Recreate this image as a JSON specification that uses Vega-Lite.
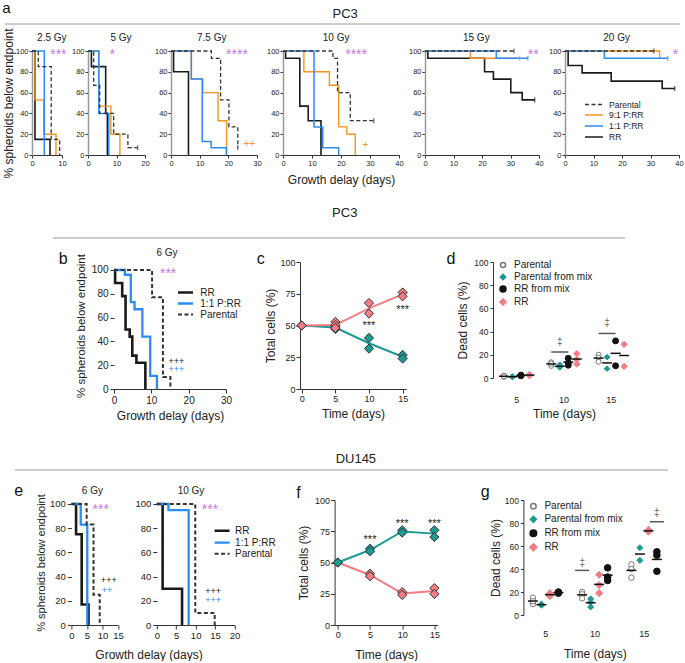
{
"$schema": "https://vega.github.io/schema/vega-lite/v6.json",
"padding": {"left": 0, "top": 0, "right": 0, "bottom": 0},
"config": {
 "font": "Liberation Sans",
 "view": {"stroke": null},
 "axis": {"grid": false, "domainColor": "#333", "tickColor": "#333", "labelColor": "#222", "titleColor": "#222", "titleFontWeight": "normal", "labelFlush": false, "labelOverlap": false, "tickSize": 3, "labelPadding": 2},
 "legend": {"labelColor": "#222"}
},
"datasets": {
 "km": [
  {"p":"a1","g":"RR","t":0,"s":100},{"p":"a1","g":"RR","t":1,"s":15},{"p":"a1","g":"RR","t":6,"s":0},
  {"p":"a1","g":"9:1 P:RR","t":0,"s":100},{"p":"a1","g":"9:1 P:RR","t":1,"s":53},{"p":"a1","g":"9:1 P:RR","t":3.9,"s":20},{"p":"a1","g":"9:1 P:RR","t":8,"s":0},
  {"p":"a1","g":"1:1 P:RR","t":0,"s":100},{"p":"a1","g":"1:1 P:RR","t":4.1,"s":0},
  {"p":"a1","g":"Parental","t":0,"s":100},{"p":"a1","g":"Parental","t":2.1,"s":85},{"p":"a1","g":"Parental","t":6.4,"s":15},{"p":"a1","g":"Parental","t":9.2,"s":0},
  {"p":"a2","g":"RR","t":0,"s":100},{"p":"a2","g":"RR","t":1.2,"s":85},{"p":"a2","g":"RR","t":6.2,"s":40},{"p":"a2","g":"RR","t":6.8,"s":0},
  {"p":"a2","g":"9:1 P:RR","t":0,"s":100},{"p":"a2","g":"9:1 P:RR","t":3.8,"s":47},{"p":"a2","g":"9:1 P:RR","t":8,"s":20},{"p":"a2","g":"9:1 P:RR","t":11.2,"s":0},
  {"p":"a2","g":"1:1 P:RR","t":0,"s":100},{"p":"a2","g":"1:1 P:RR","t":3.8,"s":40},{"p":"a2","g":"1:1 P:RR","t":7.3,"s":0},
  {"p":"a2","g":"Parental","t":0,"s":100},{"p":"a2","g":"Parental","t":2,"s":67},{"p":"a2","g":"Parental","t":4.1,"s":40},{"p":"a2","g":"Parental","t":9,"s":20},{"p":"a2","g":"Parental","t":14,"s":7},{"p":"a2","g":"Parental","t":17.4,"s":7},
  {"p":"a3","g":"RR","t":0,"s":100},{"p":"a3","g":"RR","t":0.9,"s":80},{"p":"a3","g":"RR","t":6.1,"s":0},
  {"p":"a3","g":"9:1 P:RR","t":0,"s":100},{"p":"a3","g":"9:1 P:RR","t":7.1,"s":73},{"p":"a3","g":"9:1 P:RR","t":11.1,"s":60},{"p":"a3","g":"9:1 P:RR","t":16.4,"s":33},{"p":"a3","g":"9:1 P:RR","t":19.4,"s":0},
  {"p":"a3","g":"1:1 P:RR","t":0,"s":100},{"p":"a3","g":"1:1 P:RR","t":7.1,"s":73},{"p":"a3","g":"1:1 P:RR","t":10.9,"s":13},{"p":"a3","g":"1:1 P:RR","t":14,"s":7},{"p":"a3","g":"1:1 P:RR","t":19.3,"s":0},
  {"p":"a3","g":"Parental","t":0,"s":100},{"p":"a3","g":"Parental","t":14.1,"s":93},{"p":"a3","g":"Parental","t":17.3,"s":53},{"p":"a3","g":"Parental","t":20.2,"s":27},{"p":"a3","g":"Parental","t":23.3,"s":7},
  {"p":"a4","g":"RR","t":0,"s":100},{"p":"a4","g":"RR","t":0.9,"s":93},{"p":"a4","g":"RR","t":5.8,"s":47},{"p":"a4","g":"RR","t":8.7,"s":33},{"p":"a4","g":"RR","t":13.1,"s":0},
  {"p":"a4","g":"9:1 P:RR","t":0,"s":100},{"p":"a4","g":"9:1 P:RR","t":7.2,"s":80},{"p":"a4","g":"9:1 P:RR","t":16,"s":67},{"p":"a4","g":"9:1 P:RR","t":19.2,"s":27},{"p":"a4","g":"9:1 P:RR","t":22,"s":20},{"p":"a4","g":"9:1 P:RR","t":24.9,"s":0},
  {"p":"a4","g":"1:1 P:RR","t":0,"s":100},{"p":"a4","g":"1:1 P:RR","t":10.7,"s":27},{"p":"a4","g":"1:1 P:RR","t":13.7,"s":7},{"p":"a4","g":"1:1 P:RR","t":19.2,"s":0},
  {"p":"a4","g":"Parental","t":0,"s":100},{"p":"a4","g":"Parental","t":17.2,"s":93},{"p":"a4","g":"Parental","t":18.8,"s":60},{"p":"a4","g":"Parental","t":23.2,"s":33},{"p":"a4","g":"Parental","t":31.3,"s":33},
  {"p":"a5","g":"RR","t":0,"s":100},{"p":"a5","g":"RR","t":1,"s":93},{"p":"a5","g":"RR","t":20.9,"s":80},{"p":"a5","g":"RR","t":24,"s":73},{"p":"a5","g":"RR","t":30.1,"s":60},{"p":"a5","g":"RR","t":34.1,"s":53},{"p":"a5","g":"RR","t":38.5,"s":53},
  {"p":"a5","g":"9:1 P:RR","t":0,"s":100},{"p":"a5","g":"9:1 P:RR","t":15.9,"s":93},{"p":"a5","g":"9:1 P:RR","t":33.2,"s":93},
  {"p":"a5","g":"1:1 P:RR","t":0,"s":100},{"p":"a5","g":"1:1 P:RR","t":25,"s":93},{"p":"a5","g":"1:1 P:RR","t":36.1,"s":93},
  {"p":"a5","g":"Parental","t":0,"s":100},{"p":"a5","g":"Parental","t":31.2,"s":100},
  {"p":"a6","g":"RR","t":0,"s":100},{"p":"a6","g":"RR","t":1.1,"s":86},{"p":"a6","g":"RR","t":6,"s":79},{"p":"a6","g":"RR","t":16.2,"s":71},{"p":"a6","g":"RR","t":34.1,"s":64},{"p":"a6","g":"RR","t":38.5,"s":64},
  {"p":"a6","g":"9:1 P:RR","t":0,"s":100},{"p":"a6","g":"9:1 P:RR","t":33.2,"s":93},{"p":"a6","g":"9:1 P:RR","t":33.6,"s":93},
  {"p":"a6","g":"1:1 P:RR","t":0,"s":100},{"p":"a6","g":"1:1 P:RR","t":13.8,"s":93},{"p":"a6","g":"1:1 P:RR","t":36.1,"s":93},
  {"p":"a6","g":"Parental","t":0,"s":100},{"p":"a6","g":"Parental","t":31.2,"s":100},
  {"p":"b","g":"RR","t":0,"s":100},{"p":"b","g":"RR","t":0.3,"s":89},{"p":"b","g":"RR","t":2.2,"s":78},{"p":"b","g":"RR","t":3.1,"s":50},{"p":"b","g":"RR","t":4.2,"s":44},{"p":"b","g":"RR","t":4.9,"s":28},{"p":"b","g":"RR","t":6,"s":22},{"p":"b","g":"RR","t":8.4,"s":0},
  {"p":"b","g":"1:1 P:RR","t":0,"s":100},{"p":"b","g":"1:1 P:RR","t":2.9,"s":96},{"p":"b","g":"1:1 P:RR","t":4.5,"s":73},{"p":"b","g":"1:1 P:RR","t":5.5,"s":67},{"p":"b","g":"1:1 P:RR","t":7.6,"s":44},{"p":"b","g":"1:1 P:RR","t":9.7,"s":11},{"p":"b","g":"1:1 P:RR","t":11.5,"s":0},
  {"p":"b","g":"Parental","t":0,"s":100},{"p":"b","g":"Parental","t":10.2,"s":77},{"p":"b","g":"Parental","t":13.1,"s":10},{"p":"b","g":"Parental","t":15.1,"s":0},
  {"p":"e1","g":"RR","t":0,"s":100},{"p":"e1","g":"RR","t":1.5,"s":75},{"p":"e1","g":"RR","t":3.3,"s":17},{"p":"e1","g":"RR","t":5.5,"s":0},
  {"p":"e1","g":"1:1 P:RR","t":0,"s":100},{"p":"e1","g":"1:1 P:RR","t":3,"s":83},{"p":"e1","g":"1:1 P:RR","t":5.1,"s":0},
  {"p":"e1","g":"Parental","t":0,"s":100},{"p":"e1","g":"Parental","t":4.9,"s":83},{"p":"e1","g":"Parental","t":7.1,"s":25},{"p":"e1","g":"Parental","t":9.1,"s":0},
  {"p":"e2","g":"RR","t":0,"s":100},{"p":"e2","g":"RR","t":1.5,"s":30},{"p":"e2","g":"RR","t":6.5,"s":0},
  {"p":"e2","g":"1:1 P:RR","t":0,"s":100},{"p":"e2","g":"1:1 P:RR","t":3,"s":95},{"p":"e2","g":"1:1 P:RR","t":8.2,"s":0},
  {"p":"e2","g":"Parental","t":0,"s":100},{"p":"e2","g":"Parental","t":9.9,"s":10},{"p":"e2","g":"Parental","t":14.9,"s":0}
 ],
 "cen": [
  {"p":"a2","g":"Parental","t":17.4,"s":7},{"p":"a3","g":"Parental","t":23.3,"s":7},{"p":"a4","g":"Parental","t":31.3,"s":33},
  {"p":"a5","g":"Parental","t":31.2,"s":100},{"p":"a5","g":"9:1 P:RR","t":33.2,"s":93},{"p":"a5","g":"1:1 P:RR","t":36.1,"s":93},{"p":"a5","g":"RR","t":38.5,"s":53},
  {"p":"a6","g":"Parental","t":31.2,"s":100},{"p":"a6","g":"1:1 P:RR","t":36.1,"s":93},{"p":"a6","g":"RR","t":38.5,"s":64}
 ],
 "ann": [
  {"p":"a1","k":"s","label":"***","t":8.8,"s":100},{"p":"a2","k":"s","label":"*","t":8.5,"s":100},{"p":"a3","k":"s","label":"****","t":23,"s":100},
  {"p":"a4","k":"s","label":"****","t":25.2,"s":100},{"p":"a5","k":"s","label":"**","t":38,"s":100},{"p":"a6","k":"s","label":"*","t":38.8,"s":100},
  {"p":"a3","k":"o","label":"++","t":27.3,"s":11},{"p":"a4","k":"o","label":"+","t":28.4,"s":10},
  {"p":"a1","k":"T","label":"2.5 Gy","t":6.6,"s":109.6},{"p":"a2","k":"T","label":"5 Gy","t":11.6,"s":109.6},{"p":"a3","k":"T","label":"7.5 Gy","t":14.2,"s":109.6},
  {"p":"a4","k":"T","label":"10 Gy","t":18.3,"s":109.6},{"p":"a5","k":"T","label":"15 Gy","t":18,"s":109.6},{"p":"a6","k":"T","label":"20 Gy","t":18.1,"s":109.6},
  {"p":"b","k":"s","label":"***","t":14.5,"s":100},{"p":"b","k":"k","label":"+++","t":16.7,"s":23.5},{"p":"b","k":"b","label":"+++","t":16.7,"s":16.5},
  {"p":"b","k":"T","label":"6 Gy","t":14.2,"s":111.7},{"p":"b","k":"L","label":"b","t":-13.6,"s":104.8},
  {"p":"e1","k":"s","label":"***","t":9.4,"s":98.5},{"p":"e1","k":"k","label":"+++","t":12,"s":37.4},{"p":"e1","k":"b","label":"++","t":11.4,"s":29.2},
  {"p":"e1","k":"T","label":"6 Gy","t":6.75,"s":108.5},{"p":"e1","k":"L","label":"e","t":-16.9,"s":106.4},
  {"p":"e2","k":"s","label":"***","t":13.7,"s":98.5},{"p":"e2","k":"k","label":"+++","t":14.5,"s":28.1},{"p":"e2","k":"b","label":"+++","t":14.5,"s":20.4},
  {"p":"e2","k":"T","label":"10 Gy","t":8.8,"s":108.5}
 ],
 "gro": [
  {"p":"c","g":"Parental","t":0,"v":50},{"p":"c","g":"Parental","t":5,"v":49.4},{"p":"c","g":"Parental","t":5,"v":47.3},{"p":"c","g":"Parental","t":10,"v":40.2},{"p":"c","g":"Parental","t":10,"v":31.8},{"p":"c","g":"Parental","t":15,"v":26.8},{"p":"c","g":"Parental","t":15,"v":24},
  {"p":"c","g":"RR","t":0,"v":50},{"p":"c","g":"RR","t":5,"v":52.8},{"p":"c","g":"RR","t":5,"v":50.2},{"p":"c","g":"RR","t":5,"v":48},{"p":"c","g":"RR","t":10,"v":67.7},{"p":"c","g":"RR","t":10,"v":59.4},{"p":"c","g":"RR","t":15,"v":76},{"p":"c","g":"RR","t":15,"v":73},
  {"p":"f","g":"RR","t":0,"v":50},{"p":"f","g":"RR","t":5,"v":41},{"p":"f","g":"RR","t":5,"v":39},{"p":"f","g":"RR","t":10,"v":26.3},{"p":"f","g":"RR","t":10,"v":24.1},{"p":"f","g":"RR","t":15,"v":29.5},{"p":"f","g":"RR","t":15,"v":24.9},
  {"p":"f","g":"Parental","t":0,"v":50},{"p":"f","g":"Parental","t":5,"v":61},{"p":"f","g":"Parental","t":5,"v":59},{"p":"f","g":"Parental","t":10,"v":75.8},{"p":"f","g":"Parental","t":10,"v":73.9},{"p":"f","g":"Parental","t":15,"v":75.8},{"p":"f","g":"Parental","t":15,"v":70.4}
 ],
 "gann": [
  {"p":"c","k":"s","label":"***","t":10,"v":52.2},{"p":"c","k":"s","label":"***","t":15,"v":64.5},{"p":"c","k":"L","label":"c","t":-6.07,"v":98.7},
  {"p":"f","k":"s","label":"***","t":5,"v":70.4},{"p":"f","k":"s","label":"***","t":10,"v":83},{"p":"f","k":"s","label":"***","t":15,"v":83},{"p":"f","k":"L","label":"f","t":-6.1,"v":101.8}
 ],
 "dead": [
  {"p":"d","day":5,"g":"Parental","v":1},{"p":"d","day":5,"g":"Parental","v":2},{"p":"d","day":5,"g":"Parental","v":1.5},
  {"p":"d","day":5,"g":"Parental from mix","v":1},{"p":"d","day":5,"g":"Parental from mix","v":1.2},{"p":"d","day":5,"g":"Parental from mix","v":0.8},
  {"p":"d","day":5,"g":"RR from mix","v":2},{"p":"d","day":5,"g":"RR from mix","v":2.5},{"p":"d","day":5,"g":"RR from mix","v":2},
  {"p":"d","day":5,"g":"RR","v":2},{"p":"d","day":5,"g":"RR","v":3},{"p":"d","day":5,"g":"RR","v":2.5},
  {"p":"d","day":10,"g":"Parental","v":13.5},{"p":"d","day":10,"g":"Parental","v":10.5},{"p":"d","day":10,"g":"Parental","v":12.5},
  {"p":"d","day":10,"g":"Parental from mix","v":10},{"p":"d","day":10,"g":"Parental from mix","v":9},{"p":"d","day":10,"g":"Parental from mix","v":11.5},
  {"p":"d","day":10,"g":"RR from mix","v":17},{"p":"d","day":10,"g":"RR from mix","v":13},{"p":"d","day":10,"g":"RR from mix","v":11},
  {"p":"d","day":10,"g":"RR","v":21},{"p":"d","day":10,"g":"RR","v":16},{"p":"d","day":10,"g":"RR","v":12},
  {"p":"d","day":15,"g":"Parental","v":20},{"p":"d","day":15,"g":"Parental","v":17.5},{"p":"d","day":15,"g":"Parental","v":14},
  {"p":"d","day":15,"g":"Parental from mix","v":18},{"p":"d","day":15,"g":"Parental from mix","v":8},
  {"p":"d","day":15,"g":"RR from mix","v":32},{"p":"d","day":15,"g":"RR from mix","v":10.5},
  {"p":"d","day":15,"g":"RR","v":29},{"p":"d","day":15,"g":"RR","v":10},
  {"p":"g","day":5,"g":"Parental","v":15},{"p":"g","day":5,"g":"Parental","v":9.5},{"p":"g","day":5,"g":"Parental","v":12},
  {"p":"g","day":5,"g":"Parental from mix","v":9},{"p":"g","day":5,"g":"Parental from mix","v":9.5},{"p":"g","day":5,"g":"Parental from mix","v":8.5},
  {"p":"g","day":5,"g":"RR","v":19},{"p":"g","day":5,"g":"RR","v":16.5},{"p":"g","day":5,"g":"RR","v":17.5},
  {"p":"g","day":5,"g":"RR from mix","v":20},{"p":"g","day":5,"g":"RR from mix","v":19.5},{"p":"g","day":5,"g":"RR from mix","v":19},
  {"p":"g","day":10,"g":"Parental","v":20},{"p":"g","day":10,"g":"Parental","v":18},{"p":"g","day":10,"g":"Parental","v":14.5},
  {"p":"g","day":10,"g":"Parental from mix","v":14},{"p":"g","day":10,"g":"Parental from mix","v":7},{"p":"g","day":10,"g":"Parental from mix","v":11},
  {"p":"g","day":10,"g":"RR","v":35},{"p":"g","day":10,"g":"RR","v":26},{"p":"g","day":10,"g":"RR","v":19},
  {"p":"g","day":10,"g":"RR from mix","v":41},{"p":"g","day":10,"g":"RR from mix","v":33},{"p":"g","day":10,"g":"RR from mix","v":30},
  {"p":"g","day":15,"g":"Parental","v":44},{"p":"g","day":15,"g":"Parental","v":40},{"p":"g","day":15,"g":"Parental","v":32.5},
  {"p":"g","day":15,"g":"Parental from mix","v":58.5},{"p":"g","day":15,"g":"Parental from mix","v":47.5},
  {"p":"g","day":15,"g":"RR","v":74},{"p":"g","day":15,"g":"RR","v":72.5},{"p":"g","day":15,"g":"RR","v":73},
  {"p":"g","day":15,"g":"RR from mix","v":55},{"p":"g","day":15,"g":"RR from mix","v":52},{"p":"g","day":15,"g":"RR from mix","v":38}
 ],
 "sig": [
  {"p":"d","day":10,"g":"Parental from mix","v":22.5,"w":31,"label":"‡"},
  {"p":"d","day":15,"g":"Parental from mix","v":38.4,"w":47.5,"label":"‡"},
  {"p":"g","day":10,"g":"Parental","v":38.8,"w":45.5,"label":"‡"},
  {"p":"g","day":15,"g":"RR from mix","v":81.1,"w":89,"label":"‡"}
 ],
 "lett": [
  {"p":"d","label":"d","day":5,"v":98},
  {"p":"g","label":"g","day":5,"v":102.2}
 ]
},
"vconcat": [
 {"hconcat": [
  {"width": 1, "height": 10, "data": {"values": []}, "mark": "point"},
  {"width": 675, "height": 25,
   "data": {"values": [{"label": "PC3"}]},
   "layer": [
    {"mark": {"type": "rule", "color": "#9a9a9a", "strokeWidth": 1}, "encoding": {"y": {"datum": 0.12, "type": "quantitative", "scale": {"domain": [0, 1], "nice": false}, "axis": null}}},
    {"mark": {"type": "text", "fontSize": 13, "baseline": "middle", "color": "#222"}, "encoding": {"text": {"field": "label"}, "x": {"datum": 0.504, "type": "quantitative", "scale": {"domain": [0, 1], "nice": false}, "axis": null}, "y": {"datum": 0.52, "type": "quantitative", "axis": null}}},
    {"data": {"values": [{"label": "a"}]}, "mark": {"type": "text", "fontSize": 15, "baseline": "alphabetic", "color": "#111"}, "encoding": {"text": {"field": "label"}, "x": {"datum": 0.002, "type": "quantitative", "axis": null}, "y": {"datum": 0.56, "type": "quantitative", "axis": null}}}
   ]}
  ], "spacing": 4, "bounds": "flush"},
 {"hconcat": [
  {"width": 6, "height": 10, "data": {"values": []}, "mark": "point"},
  {"width": 30, "height": 104,
   "encoding": {
    "x": {"field": "t", "type": "quantitative", "scale": {"domain": [0, 10], "nice": false}, "axis": {"values": [0, 10], "labelFontSize": 7.5, "tickSize": 3, "labelPadding": 1}, "title": null},
    "y": {"field": "s", "type": "quantitative", "scale": {"domain": [0, 100], "nice": false}, "axis": {"values": [0, 20, 40, 60, 80, 100], "labelFontSize": 7.5, "tickSize": 3, "labelPadding": 1, "domainColor": "#999", "domainWidth": 1.5, "titleFontSize": 12, "titlePadding": 0}, "title": "% spheroids below endpoint"}},
   "layer": [
    {"data": {"name": "km"}, "transform": [{"filter": "datum.p == 'a1'"}], "mark": {"type": "line", "interpolate": "step-after"},
     "encoding": {"color": {"field": "g", "type": "nominal", "scale": {"domain": ["Parental", "9:1 P:RR", "1:1 P:RR", "RR"], "range": ["#333333", "#f7931e", "#2b8cf3", "#1a1a1a"]}, "legend": null},
      "strokeDash": {"field": "g", "type": "nominal", "scale": {"domain": ["Parental", "9:1 P:RR", "1:1 P:RR", "RR"], "range": [[4, 2.5], [1, 0], [1, 0], [1, 0]]}, "legend": null},
      "strokeWidth": {"field": "g", "type": "nominal", "scale": {"domain": ["Parental", "9:1 P:RR", "1:1 P:RR", "RR"], "range": [1.3, 1.6, 2, 2.6]}, "legend": null}}},
    {"data": {"name": "ann"}, "transform": [{"filter": "datum.p == 'a1' && datum.k == 's'"}], "mark": {"type": "text", "fontSize": 14, "color": "#c47ae0", "baseline": "middle", "dy": 4}, "encoding": {"text": {"field": "label"}}},
    {"data": {"name": "ann"}, "transform": [{"filter": "datum.p == 'a1' && datum.k == 'T'"}], "mark": {"type": "text", "fontSize": 10, "color": "#222", "baseline": "alphabetic"}, "encoding": {"text": {"field": "label"}}}
   ]},
  {"width": 57, "height": 104,
   "encoding": {
    "x": {"field": "t", "type": "quantitative", "scale": {"domain": [0, 20], "nice": false}, "axis": {"values": [0, 10, 20], "labelFontSize": 7.5, "tickSize": 3, "labelPadding": 1}, "title": null},
    "y": {"field": "s", "type": "quantitative", "scale": {"domain": [0, 100], "nice": false}, "axis": {"values": [0, 20, 40, 60, 80, 100], "labelFontSize": 7.5, "tickSize": 3, "labelPadding": 1, "domainColor": "#999", "domainWidth": 1.5}, "title": null}},
   "layer": [
    {"data": {"name": "km"}, "transform": [{"filter": "datum.p == 'a2'"}], "mark": {"type": "line", "interpolate": "step-after"},
     "encoding": {"color": {"field": "g", "type": "nominal", "scale": {"domain": ["Parental", "9:1 P:RR", "1:1 P:RR", "RR"], "range": ["#333333", "#f7931e", "#2b8cf3", "#1a1a1a"]}, "legend": null},
      "strokeDash": {"field": "g", "type": "nominal", "scale": {"domain": ["Parental", "9:1 P:RR", "1:1 P:RR", "RR"], "range": [[4, 2.5], [1, 0], [1, 0], [1, 0]]}, "legend": null},
      "strokeWidth": {"field": "g", "type": "nominal", "scale": {"domain": ["Parental", "9:1 P:RR", "1:1 P:RR", "RR"], "range": [1.3, 1.6, 2, 2.6]}, "legend": null}}},
    {"data": {"name": "cen"}, "transform": [{"filter": "datum.p == 'a2'"}], "mark": {"type": "tick", "orient": "vertical", "size": 5, "thickness": 1.3},
     "encoding": {"color": {"field": "g", "type": "nominal", "scale": {"domain": ["Parental", "9:1 P:RR", "1:1 P:RR", "RR"], "range": ["#333333", "#f7931e", "#2b8cf3", "#1a1a1a"]}, "legend": null}}},
    {"data": {"name": "ann"}, "transform": [{"filter": "datum.p == 'a2' && datum.k == 's'"}], "mark": {"type": "text", "fontSize": 14, "color": "#c47ae0", "baseline": "middle", "dy": 4}, "encoding": {"text": {"field": "label"}}},
    {"data": {"name": "ann"}, "transform": [{"filter": "datum.p == 'a2' && datum.k == 'T'"}], "mark": {"type": "text", "fontSize": 10, "color": "#222", "baseline": "alphabetic"}, "encoding": {"text": {"field": "label"}}}
   ]},
  {"width": 86, "height": 104,
   "encoding": {
    "x": {"field": "t", "type": "quantitative", "scale": {"domain": [0, 30], "nice": false}, "axis": {"values": [0, 10, 20, 30], "labelFontSize": 7.5, "tickSize": 3, "labelPadding": 1}, "title": null},
    "y": {"field": "s", "type": "quantitative", "scale": {"domain": [0, 100], "nice": false}, "axis": {"values": [0, 20, 40, 60, 80, 100], "labelFontSize": 7.5, "tickSize": 3, "labelPadding": 1, "domainColor": "#999", "domainWidth": 1.5}, "title": null}},
   "layer": [
    {"data": {"name": "km"}, "transform": [{"filter": "datum.p == 'a3'"}], "mark": {"type": "line", "interpolate": "step-after"},
     "encoding": {"color": {"field": "g", "type": "nominal", "scale": {"domain": ["Parental", "9:1 P:RR", "1:1 P:RR", "RR"], "range": ["#333333", "#f7931e", "#2b8cf3", "#1a1a1a"]}, "legend": null},
      "strokeDash": {"field": "g", "type": "nominal", "scale": {"domain": ["Parental", "9:1 P:RR", "1:1 P:RR", "RR"], "range": [[4, 2.5], [1, 0], [1, 0], [1, 0]]}, "legend": null},
      "strokeWidth": {"field": "g", "type": "nominal", "scale": {"domain": ["Parental", "9:1 P:RR", "1:1 P:RR", "RR"], "range": [1.3, 1.6, 2, 2.6]}, "legend": null}}},
    {"data": {"name": "cen"}, "transform": [{"filter": "datum.p == 'a3'"}], "mark": {"type": "tick", "orient": "vertical", "size": 5, "thickness": 1.3},
     "encoding": {"color": {"field": "g", "type": "nominal", "scale": {"domain": ["Parental", "9:1 P:RR", "1:1 P:RR", "RR"], "range": ["#333333", "#f7931e", "#2b8cf3", "#1a1a1a"]}, "legend": null}}},
    {"data": {"name": "ann"}, "transform": [{"filter": "datum.p == 'a3' && datum.k == 's'"}], "mark": {"type": "text", "fontSize": 14, "color": "#c47ae0", "baseline": "middle", "dy": 4}, "encoding": {"text": {"field": "label"}}},
    {"data": {"name": "ann"}, "transform": [{"filter": "datum.p == 'a3' && datum.k == 'o'"}], "mark": {"type": "text", "fontSize": 10, "color": "#f7931e", "baseline": "middle"}, "encoding": {"text": {"field": "label"}}},
    {"data": {"name": "ann"}, "transform": [{"filter": "datum.p == 'a3' && datum.k == 'T'"}], "mark": {"type": "text", "fontSize": 10, "color": "#222", "baseline": "alphabetic"}, "encoding": {"text": {"field": "label"}}}
   ]},
  {"width": 116, "height": 104,
   "encoding": {
    "x": {"field": "t", "type": "quantitative", "scale": {"domain": [0, 40], "nice": false}, "axis": {"values": [0, 10, 20, 30, 40], "labelFontSize": 7.5, "tickSize": 3, "labelPadding": 1, "titleFontSize": 12, "titlePadding": 8}, "title": "Growth delay (days)"},
    "y": {"field": "s", "type": "quantitative", "scale": {"domain": [0, 100], "nice": false}, "axis": {"values": [0, 20, 40, 60, 80, 100], "labelFontSize": 7.5, "tickSize": 3, "labelPadding": 1, "domainColor": "#999", "domainWidth": 1.5}, "title": null}},
   "layer": [
    {"data": {"name": "km"}, "transform": [{"filter": "datum.p == 'a4'"}], "mark": {"type": "line", "interpolate": "step-after"},
     "encoding": {"color": {"field": "g", "type": "nominal", "scale": {"domain": ["Parental", "9:1 P:RR", "1:1 P:RR", "RR"], "range": ["#333333", "#f7931e", "#2b8cf3", "#1a1a1a"]}, "legend": null},
      "strokeDash": {"field": "g", "type": "nominal", "scale": {"domain": ["Parental", "9:1 P:RR", "1:1 P:RR", "RR"], "range": [[4, 2.5], [1, 0], [1, 0], [1, 0]]}, "legend": null},
      "strokeWidth": {"field": "g", "type": "nominal", "scale": {"domain": ["Parental", "9:1 P:RR", "1:1 P:RR", "RR"], "range": [1.3, 1.6, 2, 2.6]}, "legend": null}}},
    {"data": {"name": "cen"}, "transform": [{"filter": "datum.p == 'a4'"}], "mark": {"type": "tick", "orient": "vertical", "size": 5, "thickness": 1.3},
     "encoding": {"color": {"field": "g", "type": "nominal", "scale": {"domain": ["Parental", "9:1 P:RR", "1:1 P:RR", "RR"], "range": ["#333333", "#f7931e", "#2b8cf3", "#1a1a1a"]}, "legend": null}}},
    {"data": {"name": "ann"}, "transform": [{"filter": "datum.p == 'a4' && datum.k == 's'"}], "mark": {"type": "text", "fontSize": 14, "color": "#c47ae0", "baseline": "middle", "dy": 4}, "encoding": {"text": {"field": "label"}}},
    {"data": {"name": "ann"}, "transform": [{"filter": "datum.p == 'a4' && datum.k == 'o'"}], "mark": {"type": "text", "fontSize": 10, "color": "#f7931e", "baseline": "middle"}, "encoding": {"text": {"field": "label"}}},
    {"data": {"name": "ann"}, "transform": [{"filter": "datum.p == 'a4' && datum.k == 'T'"}], "mark": {"type": "text", "fontSize": 10, "color": "#222", "baseline": "alphabetic"}, "encoding": {"text": {"field": "label"}}}
   ]},
  {"width": 114, "height": 104,
   "encoding": {
    "x": {"field": "t", "type": "quantitative", "scale": {"domain": [0, 40], "nice": false}, "axis": {"values": [0, 10, 20, 30, 40], "labelFontSize": 7.5, "tickSize": 3, "labelPadding": 1}, "title": null},
    "y": {"field": "s", "type": "quantitative", "scale": {"domain": [0, 100], "nice": false}, "axis": {"values": [0, 20, 40, 60, 80, 100], "labelFontSize": 7.5, "tickSize": 3, "labelPadding": 1, "domainColor": "#999", "domainWidth": 1.5}, "title": null}},
   "layer": [
    {"data": {"name": "km"}, "transform": [{"filter": "datum.p == 'a5'"}], "mark": {"type": "line", "interpolate": "step-after"},
     "encoding": {"color": {"field": "g", "type": "nominal", "scale": {"domain": ["Parental", "9:1 P:RR", "1:1 P:RR", "RR"], "range": ["#333333", "#f7931e", "#2b8cf3", "#1a1a1a"]}, "legend": null},
      "strokeDash": {"field": "g", "type": "nominal", "scale": {"domain": ["Parental", "9:1 P:RR", "1:1 P:RR", "RR"], "range": [[4, 2.5], [1, 0], [1, 0], [1, 0]]}, "legend": null},
      "strokeWidth": {"field": "g", "type": "nominal", "scale": {"domain": ["Parental", "9:1 P:RR", "1:1 P:RR", "RR"], "range": [1.3, 1.6, 2, 2.6]}, "legend": null}}},
    {"data": {"name": "cen"}, "transform": [{"filter": "datum.p == 'a5'"}], "mark": {"type": "tick", "orient": "vertical", "size": 5, "thickness": 1.3},
     "encoding": {"color": {"field": "g", "type": "nominal", "scale": {"domain": ["Parental", "9:1 P:RR", "1:1 P:RR", "RR"], "range": ["#333333", "#f7931e", "#2b8cf3", "#1a1a1a"]}, "legend": null}}},
    {"data": {"name": "ann"}, "transform": [{"filter": "datum.p == 'a5' && datum.k == 's'"}], "mark": {"type": "text", "fontSize": 14, "color": "#c47ae0", "baseline": "middle", "dy": 4}, "encoding": {"text": {"field": "label"}}},
    {"data": {"name": "ann"}, "transform": [{"filter": "datum.p == 'a5' && datum.k == 'T'"}], "mark": {"type": "text", "fontSize": 10, "color": "#222", "baseline": "alphabetic"}, "encoding": {"text": {"field": "label"}}}
   ]},
  {"width": 114, "height": 104,
   "encoding": {
    "x": {"field": "t", "type": "quantitative", "scale": {"domain": [0, 40], "nice": false}, "axis": {"values": [0, 10, 20, 30, 40], "labelFontSize": 7.5, "tickSize": 3, "labelPadding": 1}, "title": null},
    "y": {"field": "s", "type": "quantitative", "scale": {"domain": [0, 100], "nice": false}, "axis": {"values": [0, 20, 40, 60, 80, 100], "labelFontSize": 7.5, "tickSize": 3, "labelPadding": 1, "domainColor": "#999", "domainWidth": 1.5}, "title": null}},
   "layer": [
    {"data": {"name": "km"}, "transform": [{"filter": "datum.p == 'a6'"}], "mark": {"type": "line", "interpolate": "step-after"},
     "encoding": {"color": {"field": "g", "type": "nominal", "scale": {"domain": ["Parental", "9:1 P:RR", "1:1 P:RR", "RR"], "range": ["#333333", "#f7931e", "#2b8cf3", "#1a1a1a"]}, "legend": {"orient": "none", "legendX": 23, "legendY": 48, "title": null, "labelFontSize": 8.5, "symbolType": "M-1.86,0H1.86", "symbolSize": 94, "rowPadding": 0, "labelOffset": 9, "padding": 0}},
      "strokeDash": {"field": "g", "type": "nominal", "scale": {"domain": ["Parental", "9:1 P:RR", "1:1 P:RR", "RR"], "range": [[4, 2.5], [1, 0], [1, 0], [1, 0]]}, "legend": {"orient": "none", "legendX": 23, "legendY": 48, "title": null, "labelFontSize": 8.5, "symbolType": "M-1.86,0H1.86", "symbolSize": 94, "rowPadding": 0, "labelOffset": 9, "padding": 0}},
      "strokeWidth": {"field": "g", "type": "nominal", "scale": {"domain": ["Parental", "9:1 P:RR", "1:1 P:RR", "RR"], "range": [1.3, 1.6, 2, 2.6]}, "legend": {"orient": "none", "legendX": 23, "legendY": 48, "title": null, "labelFontSize": 8.5, "symbolType": "M-1.86,0H1.86", "symbolSize": 94, "rowPadding": 0, "labelOffset": 9, "padding": 0}}}},
    {"data": {"name": "cen"}, "transform": [{"filter": "datum.p == 'a6'"}], "mark": {"type": "tick", "orient": "vertical", "size": 5, "thickness": 1.3},
     "encoding": {"color": {"field": "g", "type": "nominal", "scale": {"domain": ["Parental", "9:1 P:RR", "1:1 P:RR", "RR"], "range": ["#333333", "#f7931e", "#2b8cf3", "#1a1a1a"]}, "legend": null}}},
    {"data": {"name": "ann"}, "transform": [{"filter": "datum.p == 'a6' && datum.k == 's'"}], "mark": {"type": "text", "fontSize": 14, "color": "#c47ae0", "baseline": "middle", "dy": 4}, "encoding": {"text": {"field": "label"}}},
    {"data": {"name": "ann"}, "transform": [{"filter": "datum.p == 'a6' && datum.k == 'T'"}], "mark": {"type": "text", "fontSize": 10, "color": "#222", "baseline": "alphabetic"}, "encoding": {"text": {"field": "label"}}}
   ]}
  ],
  "spacing": 26, "bounds": "flush",
  "resolve": {"scale": {"color": "independent", "fill": "independent", "stroke": "independent", "shape": "independent", "size": "independent", "strokeDash": "independent", "strokeWidth": "independent", "xOffset": "independent"}}},
 {"hconcat": [
  {"width": 3, "height": 10, "data": {"values": []}, "mark": "point"},
  {"width": 572, "height": 62,
   "data": {"values": [{"label": "PC3"}]},
   "layer": [
    {"mark": {"type": "rule", "color": "#9a9a9a", "strokeWidth": 1}, "encoding": {"y": {"datum": 0.161, "type": "quantitative", "scale": {"domain": [0, 1], "nice": false}, "axis": null}}},
    {"mark": {"type": "text", "fontSize": 13, "baseline": "middle", "color": "#222"}, "encoding": {"text": {"field": "label"}, "x": {"datum": 0.51, "type": "quantitative", "scale": {"domain": [0, 1], "nice": false}, "axis": null}, "y": {"datum": 0.565, "type": "quantitative", "axis": null}}}
   ]}
  ], "spacing": 50, "bounds": "flush"},
 {"hconcat": [
  {"width": 84, "height": 10, "data": {"values": []}, "mark": "point"},
  {"width": 112, "height": 127,
   "encoding": {
    "x": {"field": "t", "type": "quantitative", "scale": {"domain": [0, 30], "nice": false}, "axis": {"values": [0, 10, 20, 30], "labelFontSize": 10, "tickSize": 4, "labelPadding": 2, "titleFontSize": 12, "titlePadding": 5}, "title": "Growth delay (days)"},
    "y": {"field": "s", "type": "quantitative", "scale": {"domain": [0, 106.7], "nice": false}, "axis": {"values": [0, 20, 40, 60, 80, 100], "labelFontSize": 10, "tickSize": 4, "labelPadding": 2, "domain": false, "titleFontSize": 11.5, "titlePadding": 5}, "title": "% spheroids below endpoint"}},
   "layer": [
    {"data": {"values": [{}]}, "mark": {"type": "rule", "color": "#999", "strokeWidth": 1.5}, "encoding": {"x": {"datum": 0, "type": "quantitative"}, "y": {"datum": 0, "type": "quantitative"}, "y2": {"datum": 100}}},
    {"data": {"name": "km"}, "transform": [{"filter": "datum.p == 'b'"}], "mark": {"type": "line", "interpolate": "step-after"},
     "encoding": {"color": {"field": "g", "type": "nominal", "scale": {"domain": ["RR", "1:1 P:RR", "Parental"], "range": ["#1a1a1a", "#2b8cf3", "#333333"]}, "legend": {"orient": "none", "legendX": 66, "legendY": 25, "title": null, "labelFontSize": 10, "symbolType": "M-1.79,0H1.79", "symbolSize": 70, "rowPadding": 0, "labelOffset": 9.3, "padding": 0}},
      "strokeDash": {"field": "g", "type": "nominal", "scale": {"domain": ["RR", "1:1 P:RR", "Parental"], "range": [[1, 0], [1, 0], [4, 2.5]]}, "legend": {"orient": "none", "legendX": 66, "legendY": 25, "title": null, "labelFontSize": 10, "symbolType": "M-1.79,0H1.79", "symbolSize": 70, "rowPadding": 0, "labelOffset": 9.3, "padding": 0}},
      "strokeWidth": {"field": "g", "type": "nominal", "scale": {"domain": ["RR", "1:1 P:RR", "Parental"], "range": [2.6, 2, 1.3]}, "legend": {"orient": "none", "legendX": 66, "legendY": 25, "title": null, "labelFontSize": 10, "symbolType": "M-1.79,0H1.79", "symbolSize": 70, "rowPadding": 0, "labelOffset": 9.3, "padding": 0}}}},
    {"data": {"name": "ann"}, "transform": [{"filter": "datum.p == 'b' && datum.k == 's'"}], "mark": {"type": "text", "fontSize": 14, "color": "#c47ae0", "baseline": "middle", "dy": 4}, "encoding": {"text": {"field": "label"}}},
    {"data": {"name": "ann"}, "transform": [{"filter": "datum.p == 'b' && datum.k == 'k'"}], "mark": {"type": "text", "fontSize": 9, "color": "#222", "baseline": "middle"}, "encoding": {"text": {"field": "label"}}},
    {"data": {"name": "ann"}, "transform": [{"filter": "datum.p == 'b' && datum.k == 'b'"}], "mark": {"type": "text", "fontSize": 9, "color": "#2b8cf3", "baseline": "middle"}, "encoding": {"text": {"field": "label"}}},
    {"data": {"name": "ann"}, "transform": [{"filter": "datum.p == 'b' && datum.k == 'T'"}], "mark": {"type": "text", "fontSize": 10, "color": "#222", "baseline": "alphabetic"}, "encoding": {"text": {"field": "label"}}},
    {"data": {"name": "ann"}, "transform": [{"filter": "datum.p == 'b' && datum.k == 'L'"}], "mark": {"type": "text", "fontSize": 16, "color": "#111", "baseline": "alphabetic"}, "encoding": {"text": {"field": "label"}}}
   ]},
  {"width": 14, "height": 10, "data": {"values": []}, "mark": "point"},
  {"width": 106, "height": 127,
   "encoding": {
    "x": {"field": "t", "type": "quantitative", "scale": {"domain": [-0.25, 15.5], "nice": false, "zero": false}, "axis": {"values": [0, 5, 10, 15], "labelFontSize": 9, "tickSize": 4, "labelPadding": 1, "titleFontSize": 12, "titlePadding": 5}, "title": "Time (days)"},
    "y": {"field": "v", "type": "quantitative", "scale": {"domain": [0, 100], "nice": false}, "axis": {"values": [0, 25, 50, 75, 100], "labelFontSize": 9, "tickSize": 4, "labelPadding": 1, "titleFontSize": 12, "titlePadding": 2}, "title": "Total cells (%)"}},
   "layer": [
    {"data": {"name": "gro"}, "transform": [{"filter": "datum.p == 'c'"}, {"aggregate": [{"op": "mean", "field": "v", "as": "v"}], "groupby": ["g", "t"]}], "mark": {"type": "line", "strokeWidth": 2},
     "encoding": {"color": {"field": "g", "type": "nominal", "scale": {"domain": ["RR", "Parental"], "range": ["#f27d85", "#1e9a94"]}, "legend": null}}},
    {"data": {"name": "gro"}, "transform": [{"filter": "datum.p == 'c'"}], "mark": {"type": "point", "filled": true, "size": 85, "strokeWidth": 1, "opacity": 1},
     "encoding": {
      "fill": {"field": "g", "type": "nominal", "scale": {"domain": ["RR", "Parental"], "range": ["#f27d85", "#1e9a94"]}, "legend": {"orient": "none", "legendX": 6, "legendY": -0.7, "title": null, "labelFontSize": 10, "rowPadding": 0, "labelOffset": 4, "padding": 0}},
      "stroke": {"field": "g", "type": "nominal", "scale": {"domain": ["RR", "Parental"], "range": ["#333333", "#333333"]}, "legend": {"orient": "none", "legendX": 6, "legendY": -0.7, "title": null, "labelFontSize": 10, "rowPadding": 0, "labelOffset": 4, "padding": 0}},
      "shape": {"field": "g", "type": "nominal", "scale": {"domain": ["RR", "Parental"], "range": ["diamond", "diamond"]}, "legend": {"orient": "none", "legendX": 6, "legendY": -0.7, "title": null, "labelFontSize": 10, "rowPadding": 0, "labelOffset": 4, "padding": 0}}}},
    {"data": {"name": "gann"}, "transform": [{"filter": "datum.p == 'c' && datum.k == 's'"}], "mark": {"type": "text", "fontSize": 11, "color": "#222", "baseline": "middle", "dy": 3}, "encoding": {"text": {"field": "label"}}},
    {"data": {"name": "gann"}, "transform": [{"filter": "datum.p == 'c' && datum.k == 'L'"}], "mark": {"type": "text", "fontSize": 16, "color": "#111", "baseline": "alphabetic"}, "encoding": {"text": {"field": "label"}}}
   ]},
  {"width": 27, "height": 10, "data": {"values": []}, "mark": "point"},
  {"width": 142, "height": 116,
   "encoding": {
    "x": {"field": "day", "type": "ordinal", "scale": {"type": "band", "domain": [5, 10, 15], "paddingInner": 0.28, "paddingOuter": 0.14}, "axis": {"labelAngle": 0, "domain": false, "ticks": false, "labelPadding": 17, "labelFontSize": 9, "titleFontSize": 12, "titlePadding": 4}, "title": "Time (days)"},
    "y": {"field": "v", "type": "quantitative", "scale": {"domain": [0, 100], "nice": false}, "axis": {"values": [0, 20, 40, 60, 80, 100], "labelFontSize": 8.5, "tickSize": 3, "labelPadding": 2, "titleFontSize": 12, "titlePadding": 4}, "title": "Dead cells (%)"}},
   "layer": [
    {"data": {"name": "dead"}, "transform": [{"filter": "datum.p == 'd'"}, {"aggregate": [{"op": "count", "as": "n"}], "groupby": ["day"]}], "mark": {"type": "tick", "orient": "horizontal", "size": 34, "thickness": 1, "color": "#666"}, "encoding": {"y": {"datum": -10.9, "type": "quantitative"}}},
    {"data": {"name": "dead"}, "transform": [{"filter": "datum.p == 'd'"}, {"aggregate": [{"op": "count", "as": "n"}], "groupby": ["day"]}], "mark": {"type": "rule", "color": "#666", "strokeWidth": 1}, "encoding": {"x": {"field": "day", "type": "ordinal", "bandPosition": 0}, "y": {"datum": -10.9, "type": "quantitative"}, "y2": {"datum": -8.6}}},
    {"data": {"name": "dead"}, "transform": [{"filter": "datum.p == 'd'"}, {"aggregate": [{"op": "count", "as": "n"}], "groupby": ["day"]}], "mark": {"type": "rule", "color": "#666", "strokeWidth": 1}, "encoding": {"x": {"field": "day", "type": "ordinal", "bandPosition": 1}, "y": {"datum": -10.9, "type": "quantitative"}, "y2": {"datum": -8.6}}},
    {"data": {"name": "dead"}, "transform": [{"filter": "datum.p == 'd'"}], "mark": {"type": "point", "filled": true, "strokeWidth": 1, "opacity": 1},
     "encoding": {
      "xOffset": {"field": "g", "type": "nominal", "scale": {"domain": ["Parental", "Parental from mix", "RR from mix", "RR"], "paddingInner": 0, "paddingOuter": 0}},
      "fill": {"field": "g", "type": "nominal", "scale": {"domain": ["Parental", "Parental from mix", "RR from mix", "RR"], "range": ["#ffffff", "#1e9a94", "#111111", "#f27d85"]}, "legend": {"orient": "none", "legendX": 5, "legendY": -2, "title": null, "labelFontSize": 10, "rowPadding": 0, "labelOffset": 6, "padding": 0}},
      "stroke": {"field": "g", "type": "nominal", "scale": {"domain": ["Parental", "Parental from mix", "RR from mix", "RR"], "range": ["#777777", "#1e9a94", "#111111", "#f27d85"]}, "legend": {"orient": "none", "legendX": 5, "legendY": -2, "title": null, "labelFontSize": 10, "rowPadding": 0, "labelOffset": 6, "padding": 0}},
      "shape": {"field": "g", "type": "nominal", "scale": {"domain": ["Parental", "Parental from mix", "RR from mix", "RR"], "range": ["circle", "diamond", "circle", "diamond"]}, "legend": {"orient": "none", "legendX": 5, "legendY": -2, "title": null, "labelFontSize": 10, "rowPadding": 0, "labelOffset": 6, "padding": 0}},
      "size": {"field": "g", "type": "nominal", "scale": {"domain": ["Parental", "Parental from mix", "RR from mix", "RR"], "range": [26, 40, 44, 45]}, "legend": {"orient": "none", "legendX": 5, "legendY": -2, "title": null, "labelFontSize": 10, "rowPadding": 0, "labelOffset": 6, "padding": 0}}}},
    {"data": {"name": "dead"}, "transform": [{"filter": "datum.p == 'd'"}], "mark": {"type": "tick", "orient": "horizontal", "size": 10, "thickness": 1.5, "color": "#111"},
     "encoding": {"xOffset": {"field": "g", "type": "nominal"}, "y": {"aggregate": "mean", "field": "v", "type": "quantitative", "title": "Dead cells (%)"}}},
    {"data": {"name": "sig"}, "transform": [{"filter": "datum.p == 'd'"}], "mark": {"type": "tick", "orient": "horizontal", "size": 17, "thickness": 1.5, "color": "#111"}, "encoding": {"xOffset": {"field": "g", "type": "nominal"}}},
    {"data": {"name": "sig"}, "transform": [{"filter": "datum.p == 'd'"}], "mark": {"type": "text", "fontSize": 10, "color": "#666", "baseline": "middle"}, "encoding": {"xOffset": {"field": "g", "type": "nominal"}, "y": {"field": "w", "type": "quantitative", "title": "Dead cells (%)"}, "text": {"field": "label"}}},
    {"data": {"name": "lett"}, "transform": [{"filter": "datum.p == 'd'"}], "mark": {"type": "text", "fontSize": 16, "color": "#111", "baseline": "alphabetic", "dx": -65.8}, "encoding": {"text": {"field": "label"}}}
   ]}
  ],
  "spacing": 30, "bounds": "flush",
  "resolve": {"scale": {"color": "independent", "fill": "independent", "stroke": "independent", "shape": "independent", "size": "independent", "strokeDash": "independent", "strokeWidth": "independent", "xOffset": "independent"}}},
 {"hconcat": [
  {"width": 1, "height": 10, "data": {"values": []}, "mark": "point"},
  {"width": 653, "height": 61.5,
   "data": {"values": [{"label": "DU145"}]},
   "layer": [
    {"mark": {"type": "rule", "color": "#9a9a9a", "strokeWidth": 1}, "encoding": {"y": {"datum": 0.203, "type": "quantitative", "scale": {"domain": [0, 1], "nice": false}, "axis": null}}},
    {"mark": {"type": "text", "fontSize": 13, "baseline": "middle", "color": "#222"}, "encoding": {"text": {"field": "label"}, "x": {"datum": 0.522, "type": "quantitative", "scale": {"domain": [0, 1], "nice": false}, "axis": null}, "y": {"datum": 0.39, "type": "quantitative", "axis": null}}}
   ]}
  ], "spacing": 14, "bounds": "flush"},
 {"hconcat": [
  {"width": 32.3, "height": 10, "data": {"values": []}, "mark": "point"},
  {"width": 46.7, "height": 125,
   "encoding": {
    "x": {"field": "t", "type": "quantitative", "scale": {"domain": [0, 15], "nice": false}, "axis": {"values": [0, 5, 10, 15], "labelFontSize": 9.5, "tickSize": 4, "labelPadding": 1}, "title": null},
    "y": {"field": "s", "type": "quantitative", "scale": {"domain": [0, 103.3], "nice": false}, "axis": {"values": [0, 20, 40, 60, 80, 100], "labelFontSize": 9.5, "tickSize": 4, "labelPadding": 2, "domain": false, "titleFontSize": 11, "titlePadding": 3}, "title": "% spheroids below endpoint"}},
   "layer": [
    {"data": {"values": [{}]}, "mark": {"type": "rule", "color": "#999", "strokeWidth": 1.5}, "encoding": {"x": {"datum": 0, "type": "quantitative"}, "y": {"datum": 0, "type": "quantitative"}, "y2": {"datum": 100}}},
    {"data": {"name": "km"}, "transform": [{"filter": "datum.p == 'e1'"}], "mark": {"type": "line", "interpolate": "step-after"},
     "encoding": {"color": {"field": "g", "type": "nominal", "scale": {"domain": ["RR", "1:1 P:RR", "Parental"], "range": ["#1a1a1a", "#2b8cf3", "#333333"]}, "legend": null},
      "strokeDash": {"field": "g", "type": "nominal", "scale": {"domain": ["RR", "1:1 P:RR", "Parental"], "range": [[1, 0], [1, 0], [4, 2.5]]}, "legend": null},
      "strokeWidth": {"field": "g", "type": "nominal", "scale": {"domain": ["RR", "1:1 P:RR", "Parental"], "range": [2.6, 2, 1.3]}, "legend": null}}},
    {"data": {"name": "ann"}, "transform": [{"filter": "datum.p == 'e1' && datum.k == 's'"}], "mark": {"type": "text", "fontSize": 14, "color": "#c47ae0", "baseline": "middle", "dy": 4}, "encoding": {"text": {"field": "label"}}},
    {"data": {"name": "ann"}, "transform": [{"filter": "datum.p == 'e1' && datum.k == 'k'"}], "mark": {"type": "text", "fontSize": 9, "color": "#222", "baseline": "middle"}, "encoding": {"text": {"field": "label"}}},
    {"data": {"name": "ann"}, "transform": [{"filter": "datum.p == 'e1' && datum.k == 'b'"}], "mark": {"type": "text", "fontSize": 9, "color": "#2b8cf3", "baseline": "middle"}, "encoding": {"text": {"field": "label"}}},
    {"data": {"name": "ann"}, "transform": [{"filter": "datum.p == 'e1' && datum.k == 'T'"}], "mark": {"type": "text", "fontSize": 10, "color": "#222", "baseline": "alphabetic"}, "encoding": {"text": {"field": "label"}}},
    {"data": {"name": "ann"}, "transform": [{"filter": "datum.p == 'e1' && datum.k == 'L'"}], "mark": {"type": "text", "fontSize": 16, "color": "#111", "baseline": "alphabetic"}, "encoding": {"text": {"field": "label"}}}
   ]},
  {"width": 77.7, "height": 125,
   "encoding": {
    "x": {"field": "t", "type": "quantitative", "scale": {"domain": [0, 20], "nice": false}, "axis": {"values": [0, 5, 10, 15, 20], "labelFontSize": 9.5, "tickSize": 4, "labelPadding": 1, "titleFontSize": 12, "titlePadding": 10, "titleX": -8.3}, "title": "Growth delay (days)"},
    "y": {"field": "s", "type": "quantitative", "scale": {"domain": [0, 103.3], "nice": false}, "axis": {"values": [0, 20, 40, 60, 80, 100], "labelFontSize": 9.5, "tickSize": 4, "labelPadding": 2, "domain": false}, "title": null}},
   "layer": [
    {"data": {"values": [{}]}, "mark": {"type": "rule", "color": "#999", "strokeWidth": 1.5}, "encoding": {"x": {"datum": 0, "type": "quantitative"}, "y": {"datum": 0, "type": "quantitative"}, "y2": {"datum": 100}}},
    {"data": {"name": "km"}, "transform": [{"filter": "datum.p == 'e2'"}], "mark": {"type": "line", "interpolate": "step-after"},
     "encoding": {"color": {"field": "g", "type": "nominal", "scale": {"domain": ["RR", "1:1 P:RR", "Parental"], "range": ["#1a1a1a", "#2b8cf3", "#333333"]}, "legend": {"orient": "none", "legendX": 59.3, "legendY": 24.7, "title": null, "labelFontSize": 10, "symbolType": "M-1.65,0H1.65", "symbolSize": 83, "rowPadding": 0, "labelOffset": 7, "padding": 0}},
      "strokeDash": {"field": "g", "type": "nominal", "scale": {"domain": ["RR", "1:1 P:RR", "Parental"], "range": [[1, 0], [1, 0], [4, 2.5]]}, "legend": {"orient": "none", "legendX": 59.3, "legendY": 24.7, "title": null, "labelFontSize": 10, "symbolType": "M-1.65,0H1.65", "symbolSize": 83, "rowPadding": 0, "labelOffset": 7, "padding": 0}},
      "strokeWidth": {"field": "g", "type": "nominal", "scale": {"domain": ["RR", "1:1 P:RR", "Parental"], "range": [2.6, 2, 1.3]}, "legend": {"orient": "none", "legendX": 59.3, "legendY": 24.7, "title": null, "labelFontSize": 10, "symbolType": "M-1.65,0H1.65", "symbolSize": 83, "rowPadding": 0, "labelOffset": 7, "padding": 0}}}},
    {"data": {"name": "ann"}, "transform": [{"filter": "datum.p == 'e2' && datum.k == 's'"}], "mark": {"type": "text", "fontSize": 14, "color": "#c47ae0", "baseline": "middle", "dy": 4}, "encoding": {"text": {"field": "label"}}},
    {"data": {"name": "ann"}, "transform": [{"filter": "datum.p == 'e2' && datum.k == 'k'"}], "mark": {"type": "text", "fontSize": 9, "color": "#222", "baseline": "middle"}, "encoding": {"text": {"field": "label"}}},
    {"data": {"name": "ann"}, "transform": [{"filter": "datum.p == 'e2' && datum.k == 'b'"}], "mark": {"type": "text", "fontSize": 9, "color": "#2b8cf3", "baseline": "middle"}, "encoding": {"text": {"field": "label"}}},
    {"data": {"name": "ann"}, "transform": [{"filter": "datum.p == 'e2' && datum.k == 'T'"}], "mark": {"type": "text", "fontSize": 10, "color": "#222", "baseline": "alphabetic"}, "encoding": {"text": {"field": "label"}}}
   ]},
  {"width": 22.6, "height": 10, "data": {"values": []}, "mark": "point"},
  {"width": 103, "height": 125,
   "encoding": {
    "x": {"field": "t", "type": "quantitative", "scale": {"domain": [-0.5, 15.5], "nice": false, "zero": false}, "axis": {"values": [0, 5, 10, 15], "labelFontSize": 9, "tickSize": 4, "labelPadding": 1, "titleFontSize": 12, "titlePadding": 10}, "title": "Time (days)"},
    "y": {"field": "v", "type": "quantitative", "scale": {"domain": [0, 100], "nice": false}, "axis": {"values": [0, 25, 50, 75, 100], "labelFontSize": 9, "tickSize": 4, "labelPadding": 1, "titleFontSize": 12, "titlePadding": 4}, "title": "Total cells (%)"}},
   "layer": [
    {"data": {"name": "gro"}, "transform": [{"filter": "datum.p == 'f'"}, {"aggregate": [{"op": "mean", "field": "v", "as": "v"}], "groupby": ["g", "t"]}], "mark": {"type": "line", "strokeWidth": 2},
     "encoding": {"color": {"field": "g", "type": "nominal", "scale": {"domain": ["RR", "Parental"], "range": ["#f27d85", "#1e9a94"]}, "legend": null}}},
    {"data": {"name": "gro"}, "transform": [{"filter": "datum.p == 'f'"}], "mark": {"type": "point", "filled": true, "size": 85, "strokeWidth": 1, "opacity": 1},
     "encoding": {
      "fill": {"field": "g", "type": "nominal", "scale": {"domain": ["RR", "Parental"], "range": ["#f27d85", "#1e9a94"]}, "legend": {"orient": "none", "legendX": 4.2, "legendY": 2.3, "title": null, "labelFontSize": 10, "rowPadding": 0.5, "labelOffset": 4, "padding": 0}},
      "stroke": {"field": "g", "type": "nominal", "scale": {"domain": ["RR", "Parental"], "range": ["#333333", "#333333"]}, "legend": {"orient": "none", "legendX": 4.2, "legendY": 2.3, "title": null, "labelFontSize": 10, "rowPadding": 0.5, "labelOffset": 4, "padding": 0}},
      "shape": {"field": "g", "type": "nominal", "scale": {"domain": ["RR", "Parental"], "range": ["diamond", "diamond"]}, "legend": {"orient": "none", "legendX": 4.2, "legendY": 2.3, "title": null, "labelFontSize": 10, "rowPadding": 0.5, "labelOffset": 4, "padding": 0}}}},
    {"data": {"name": "gann"}, "transform": [{"filter": "datum.p == 'f' && datum.k == 's'"}], "mark": {"type": "text", "fontSize": 11, "color": "#222", "baseline": "middle", "dy": 3}, "encoding": {"text": {"field": "label"}}},
    {"data": {"name": "gann"}, "transform": [{"filter": "datum.p == 'f' && datum.k == 'L'"}], "mark": {"type": "text", "fontSize": 16, "color": "#111", "baseline": "alphabetic"}, "encoding": {"text": {"field": "label"}}}
   ]},
  {"width": 8.4, "height": 10, "data": {"values": []}, "mark": "point"},
  {"width": 143, "height": 115,
   "encoding": {
    "x": {"field": "day", "type": "ordinal", "scale": {"type": "band", "domain": [5, 10, 15], "paddingInner": 0.31, "paddingOuter": 0.107}, "axis": {"labelAngle": 0, "domain": false, "ticks": false, "labelPadding": 14, "labelFontSize": 9, "titleFontSize": 12, "titlePadding": 10}, "title": "Time (days)"},
    "y": {"field": "v", "type": "quantitative", "scale": {"domain": [0, 100], "nice": false}, "axis": {"values": [0, 20, 40, 60, 80, 100], "labelFontSize": 8.5, "tickSize": 3, "labelPadding": 2, "titleFontSize": 12, "titlePadding": 2}, "title": "Dead cells (%)"}},
   "layer": [
    {"data": {"name": "dead"}, "transform": [{"filter": "datum.p == 'g'"}, {"aggregate": [{"op": "count", "as": "n"}], "groupby": ["day"]}], "mark": {"type": "tick", "orient": "horizontal", "size": 34, "thickness": 1, "color": "#666"}, "encoding": {"y": {"datum": -7.6, "type": "quantitative"}}},
    {"data": {"name": "dead"}, "transform": [{"filter": "datum.p == 'g'"}, {"aggregate": [{"op": "count", "as": "n"}], "groupby": ["day"]}], "mark": {"type": "rule", "color": "#666", "strokeWidth": 1}, "encoding": {"x": {"field": "day", "type": "ordinal", "bandPosition": 0}, "y": {"datum": -7.6, "type": "quantitative"}, "y2": {"datum": -5.4}}},
    {"data": {"name": "dead"}, "transform": [{"filter": "datum.p == 'g'"}, {"aggregate": [{"op": "count", "as": "n"}], "groupby": ["day"]}], "mark": {"type": "rule", "color": "#666", "strokeWidth": 1}, "encoding": {"x": {"field": "day", "type": "ordinal", "bandPosition": 1}, "y": {"datum": -7.6, "type": "quantitative"}, "y2": {"datum": -5.4}}},
    {"data": {"name": "dead"}, "transform": [{"filter": "datum.p == 'g'"}], "mark": {"type": "point", "filled": true, "strokeWidth": 1, "opacity": 1},
     "encoding": {
      "xOffset": {"field": "g", "type": "nominal", "scale": {"domain": ["Parental", "Parental from mix", "RR", "RR from mix"], "paddingInner": 0, "paddingOuter": 0}},
      "fill": {"field": "g", "type": "nominal", "scale": {"domain": ["Parental", "Parental from mix", "RR from mix", "RR"], "range": ["#ffffff", "#1e9a94", "#111111", "#f27d85"]}, "legend": {"orient": "none", "legendX": 5, "legendY": 1.3, "title": null, "labelFontSize": 10, "rowPadding": 0, "labelOffset": 6, "padding": 0}},
      "stroke": {"field": "g", "type": "nominal", "scale": {"domain": ["Parental", "Parental from mix", "RR from mix", "RR"], "range": ["#777777", "#1e9a94", "#111111", "#f27d85"]}, "legend": {"orient": "none", "legendX": 5, "legendY": 1.3, "title": null, "labelFontSize": 10, "rowPadding": 0, "labelOffset": 6, "padding": 0}},
      "shape": {"field": "g", "type": "nominal", "scale": {"domain": ["Parental", "Parental from mix", "RR from mix", "RR"], "range": ["circle", "diamond", "circle", "diamond"]}, "legend": {"orient": "none", "legendX": 5, "legendY": 1.3, "title": null, "labelFontSize": 10, "rowPadding": 0, "labelOffset": 6, "padding": 0}},
      "size": {"field": "g", "type": "nominal", "scale": {"domain": ["Parental", "Parental from mix", "RR from mix", "RR"], "range": [30, 50, 60, 55]}, "legend": {"orient": "none", "legendX": 5, "legendY": 1.3, "title": null, "labelFontSize": 10, "rowPadding": 0, "labelOffset": 6, "padding": 0}}}},
    {"data": {"name": "dead"}, "transform": [{"filter": "datum.p == 'g'"}], "mark": {"type": "tick", "orient": "horizontal", "size": 10, "thickness": 1.5, "color": "#111"},
     "encoding": {"xOffset": {"field": "g", "type": "nominal"}, "y": {"aggregate": "mean", "field": "v", "type": "quantitative", "title": "Dead cells (%)"}}},
    {"data": {"name": "sig"}, "transform": [{"filter": "datum.p == 'g'"}], "mark": {"type": "tick", "orient": "horizontal", "size": 14, "thickness": 1.5, "color": "#111"}, "encoding": {"xOffset": {"field": "g", "type": "nominal"}}},
    {"data": {"name": "sig"}, "transform": [{"filter": "datum.p == 'g'"}], "mark": {"type": "text", "fontSize": 10, "color": "#666", "baseline": "middle"}, "encoding": {"xOffset": {"field": "g", "type": "nominal"}, "y": {"field": "w", "type": "quantitative", "title": "Dead cells (%)"}, "text": {"field": "label"}}},
    {"data": {"name": "lett"}, "transform": [{"filter": "datum.p == 'g'"}], "mark": {"type": "text", "fontSize": 16, "color": "#111", "baseline": "alphabetic", "dx": -60.4}, "encoding": {"text": {"field": "label"}}}
   ]}
  ],
  "spacing": 38.4, "bounds": "flush",
  "resolve": {"scale": {"color": "independent", "fill": "independent", "stroke": "independent", "shape": "independent", "size": "independent", "strokeDash": "independent", "strokeWidth": "independent", "xOffset": "independent"}}}
],
"spacing": 0, "bounds": "full",
"resolve": {"scale": {"color": "independent", "fill": "independent", "stroke": "independent", "shape": "independent", "size": "independent", "strokeDash": "independent", "strokeWidth": "independent", "xOffset": "independent"}}
}
